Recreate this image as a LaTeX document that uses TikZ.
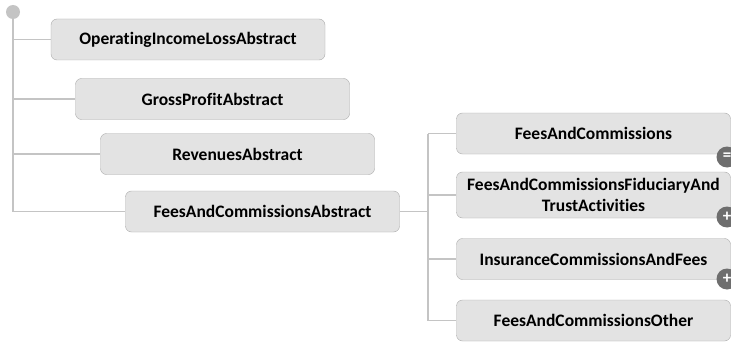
\documentclass[tikz,border=0pt]{standalone}
\usepackage{fontspec}
\setmainfont[Ligatures={NoCommon}]{Carlito}
\definecolor{boxfill}{HTML}{E3E3E3}
\definecolor{boxline}{HTML}{ABABAB}
\definecolor{treeline}{HTML}{C4C4C4}
\definecolor{knob}{HTML}{6E6E6E}
\tikzset{
  concept/.style = {draw=boxline, fill=boxfill, rounded corners=6pt, minimum width=274pt,
    minimum height=41pt, inner sep=2pt, align=center, font=\bfseries\fontsize{17.5}{21}\selectfont},
  link/.style = {draw=treeline, line width=1.1pt},
  toggle/.style = {circle, fill=knob, minimum size=21pt, inner sep=0pt, text=white,
    font=\bfseries\fontsize{17}{17}\selectfont}
}
\begin{document}
\begin{tikzpicture}[x=1pt, y=-1pt]
      \useasboundingbox [fill=white] (0, 0) rectangle (731, 345);
      \node [circle, fill=treeline, minimum size=14pt, inner sep=0pt] (root) at (13, 12) {};
      \node [concept] (opincome) at (188, 39.5) {OperatingIncomeLossAbstract};
      \node [concept] (gross) at (212.5, 99) {GrossProfitAbstract};
      \node [concept] (revenues) at (237.5, 154) {RevenuesAbstract};
      \node [concept] (feesabs) at (262.5, 211.5) {FeesAndCommissionsAbstract};
      \coordinate (branch) at (428, 211.5);
      \node [concept] (fees) at (593.5, 133.5) {FeesAndCommissions};
      \node [concept, minimum height=46pt, inner sep=0pt] (fiduciary) at (593.5, 195) {FeesAndCommissionsFiduciaryAnd\\TrustActivities};
      \node [concept] (insurance) at (593.5, 259) {InsuranceCommissionsAndFees};
      \node [concept] (feesother) at (593.5, 320.5) {FeesAndCommissionsOther};
      \draw [link] (root) -- (13, 211.5) -- (feesabs.west);
      \draw [link] (root |- opincome) -- (opincome.west);
      \draw [link] (root |- gross) -- (gross.west);
      \draw [link] (root |- revenues) -- (revenues.west);
      \draw [link] (feesabs.east) -- (branch);
      \draw [link] (branch |- fees) |- (feesother.west);
      \draw [link] (branch |- fees) -- (fees.west);
      \draw [link] (branch |- fiduciary) -- (fiduciary.west);
      \draw [link] (branch |- insurance) -- (insurance.west);
      \node [toggle] (togglefees) at (727, 157) {=};
      \node [toggle] (togglefiduciary) at (727, 217) {+};
      \node [toggle] (toggleinsurance) at (727, 279) {+};
    \end{tikzpicture}
\end{document}
